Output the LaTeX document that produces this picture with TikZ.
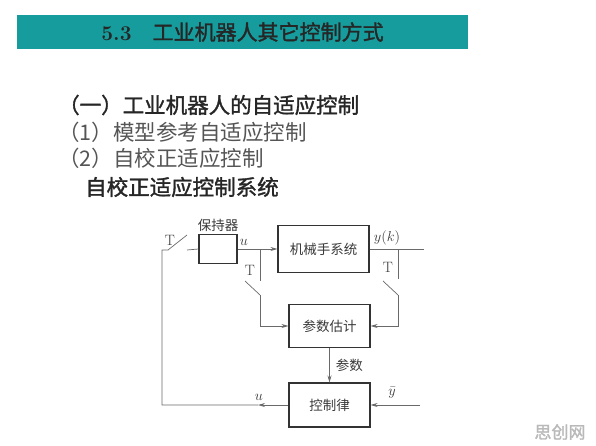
\documentclass[tikz,border=0pt]{standalone}
\usepackage{fontspec}
\newfontfamily\cjk{Noto Sans CJK SC}[AutoFakeBold=1.5]
\usetikzlibrary{arrows.meta}

\definecolor{barteal}{HTML}{169C9C}
\definecolor{boxgray}{HTML}{333333}
\definecolor{linegray}{HTML}{6A6A6A}
\definecolor{txtgray}{HTML}{3A3A3A}
\definecolor{subgray}{HTML}{555555}

\begin{document}
\begin{tikzpicture}[x=1pt,y=-1pt]
      \tikzstyle{block} = [rectangle, draw=boxgray, line width=1.1pt, text=txtgray, font=\cjk\fontsize{13.5}{15}\selectfont]
      \tikzstyle{line} = [draw=linegray, line width=0.7pt]
      \tikzstyle{arrow} = [line, -{Stealth[length=7pt,width=4pt]}]
      \tikzstyle{lbl} = [inner sep=0pt, text=txtgray, font=\fontsize{15}{16}\selectfont]
      \tikzstyle{heading} = [anchor=west, inner sep=0pt, font=\cjk\fontsize{21.5}{24}\selectfont]

      \fill[white] (0,0) rectangle (596,446);

      % title bar
      \fill[barteal] (17,15) rectangle (468,49);
      \node (title) [inner sep=0pt, text=black!85, font=\bfseries\fontsize{21}{23}\selectfont] at (242.5,32) {5.3\quad{\cjk\bfseries 工业机器人其它控制方式}};

      \node (sec) [heading, text=black!85, font=\cjk\bfseries\fontsize{21.5}{24}\selectfont] at (58,105) {（一）工业机器人的自适应控制};
      \node (mrac) [heading, text=subgray] at (58,132) {（1）模型参考自适应控制};
      \node (str) [heading, text=subgray] at (58,158) {（2）自校正适应控制};
      \node (strsys) [heading, text=black!85, font=\cjk\bfseries\fontsize{21.5}{24}\selectfont] at (85,187) {自校正适应控制系统};

      % blocks
      \node (hold) [block, minimum width=38pt, minimum height=29pt] at (218,249) {};
      \node (plant) [block, minimum width=91pt, minimum height=47pt] at (323.5,249) {机械手系统};
      \node (est) [block, minimum width=81pt, minimum height=43pt] at (329.5,326) {参数估计};
      \node (ctrl) [block, minimum width=81pt, minimum height=44pt] at (329.5,405) {控制律};

      \node (holdname) [lbl, font=\cjk\fontsize{13.5}{15}\selectfont] at (218,225) {保持器};

      % switch points
      \coordinate (ubr) at (260,249);
      \coordinate (ua) at (260,281);
      \coordinate (ub) at (245,281);
      \coordinate (uc) at (260,295);
      \coordinate (ybr) at (398,249);
      \coordinate (ya) at (398,279);
      \coordinate (yb) at (383,281);
      \coordinate (yc) at (398,295);
      \coordinate (yend) at (424,249);
      \coordinate (fb) at (258,405);
      \coordinate (fbl) at (162,405);
      \coordinate (sa) at (168,250);
      \coordinate (sb) at (187,235);
      \coordinate (sc) at (187,250);
      \coordinate (ybar) at (420,405);

      \draw [arrow] (hold) -- (plant);
      \draw [line] (ubr) -- (ua);
      \draw [line] (ub) -- (uc);
      \draw [arrow] (uc) |- (est.west);

      \draw [line] (plant.east) -- (yend);
      \draw [line] (ybr) -- (ya);
      \draw [line] (yb) -- (yc);
      \draw [arrow] (yc) |- (est.east);

      \draw [arrow] (est) -- (ctrl) node [pos=0.5, right=6pt, lbl, font=\cjk\fontsize{13.5}{15}\selectfont] {参数};
      \draw [arrow] (ybar) -- (ctrl.east);

      \draw [arrow] (ctrl.west) -- (fb);
      \draw [line] (fb) -- (fbl) |- (sa) -- (sb);
      \draw [line] (sc) -- (hold.west);

      % labels
      \node (ulbl) [lbl] at (244,242) {$u$};
      \node (yklbl) [lbl] at (387,238) {$y(k)$};
      \node (t1) [lbl] at (170,240) {T};
      \node (t2) [lbl] at (250,270) {T};
      \node (t3) [lbl] at (388,267) {T};
      \node (ufb) [lbl] at (259,397) {$u$};
      \node (ybarlbl) [lbl] at (392,393) {$\bar{y}$};

      \node (mark) [inner sep=0pt, text=gray!55, font=\cjk\bfseries\fontsize{17}{18}\selectfont] at (560,432) {思创网};
\end{tikzpicture}
\end{document}
